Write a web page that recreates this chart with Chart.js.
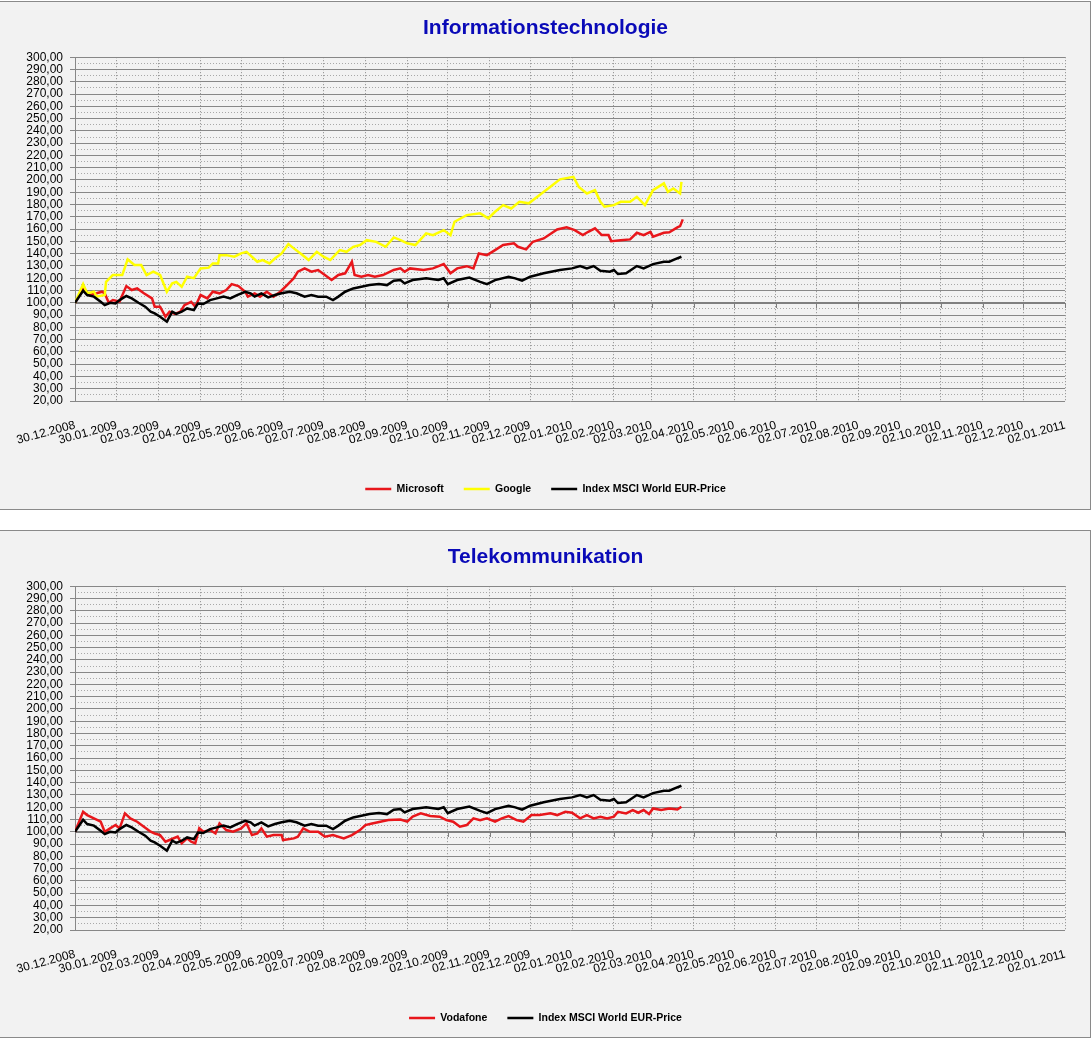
<!DOCTYPE html>
<html>
<head>
<meta charset="utf-8">
<script src="https://cdn.jsdelivr.net/npm/chart.js@4.4.0/dist/chart.umd.min.js"></script>
<style>
  html, body { margin: 0; padding: 0; background: #ffffff; }
  body { position: relative; width: 1091px; height: 1039px; overflow: hidden; }
  .panel { position: absolute; left: -1px; width: 1092px; box-sizing: border-box;
           background: #f2f2f2; border: 1px solid #8a8a8a; }
  canvas { position: absolute; left: 0; }
</style>
</head>
<body>
<div class="panel" style="top:1px;height:509px;"></div>
<div class="panel" style="top:530px;height:508px;"></div>
<canvas id="c1" width="1091" height="509" style="top:0px;"></canvas>
<canvas id="c2" width="1091" height="509" style="top:529px;"></canvas>
<script>
// ---- tick labels (x axis, dates) ----
const tickLabels = ["30.12.2008","30.01.2009","02.03.2009","02.04.2009","02.05.2009","02.06.2009","02.07.2009","02.08.2009","02.09.2009","02.10.2009","02.11.2009","02.12.2009","02.01.2010","02.02.2010","02.03.2010","02.04.2010","02.05.2010","02.06.2010","02.07.2010","02.08.2010","02.09.2010","02.10.2010","02.11.2010","02.12.2010","02.01.2011"];

// ---- series (x = days since 30.12.2008, y = indexed value, start = 100) ----
const msftDays = [0,6,11,16,20,22,25,28,33,38,42,46,51,57,59,63,67,70,74,78,81,86,89,93,98,102,107,112,116,121,126,128,133,137,142,147,152,157,162,165,170,175,180,185,190,195,200,205,207,212,217,222,228,236,241,244,248,258,265,273,278,283,290,295,299,305,311,317,325,328,334,339,347,357,364,370,376,380,385,390,395,397,404,411,416,421,426,428,436,440,446,448,450];
const msftValues = [100,111.7,106.3,107.7,109,107.7,100,102.2,101,113.6,110.4,111.7,107.7,103.6,96.8,96.8,88.6,92.7,91,92.7,98.1,100.8,96.8,106.3,103.6,109,107.7,110.4,115.2,113.6,109,105,107.7,105,109,105,109,114.4,120,125.3,128,125.3,126.7,122.6,118.5,122.6,124,133.4,122.6,121.2,122.6,121.2,122.6,126.7,128,125.3,128,126.7,128,131.5,124,128,129.8,128,140.2,138.8,142.9,147,148.4,145.6,143.5,149.7,152.4,159.7,161.4,159.2,155.1,157.8,160.6,155.1,155.1,150.2,151,151.6,157,155.1,157.8,153.8,157,157.4,161.4,162.4,167.9];

const googDays = [0,6,9,14,16,22,23,28,35,39,44,49,53,58,63,68,72,75,79,83,88,93,99,102,106,107,112,118,123,127,135,139,144,148,153,158,162,167,173,179,184,189,196,201,206,211,216,223,230,236,241,246,252,260,265,273,278,281,290,300,306,311,317,323,329,336,344,352,359,369,373,379,385,389,392,399,404,411,416,422,428,436,439,443,448,449];
const googValues = [100,115.2,107.7,109,105,106.3,117,122.6,122.6,135.3,130.7,130.7,122.6,125.3,122.6,109,115.8,117,113,121.2,120,128,128.6,132,132,138.8,138.8,137.5,140.2,141.5,133.4,134.8,132,136,140.2,147.8,144.3,140.2,134.8,141.5,137.5,134.8,142.9,141.5,145.6,147,151,149.6,145.6,153.2,151,148.4,147,156.5,155,159.2,155,166,171.4,172.8,168.7,174.1,179.5,176.8,182.2,181,187.7,194.4,200.5,202.6,194.4,189,191.7,182.2,178.2,179.5,182.2,182.2,186.3,179.5,191.7,197.2,190.3,193.1,189,198.5];

const idxDays = [0,6,9,14,19,22,26,30,33,38,42,47,52,56,59,63,68,72,75,79,83,88,91,95,100,105,110,115,120,126,130,133,138,143,148,153,159,164,170,175,180,186,191,195,200,206,212,218,225,231,236,241,244,250,260,269,273,276,283,292,300,305,311,321,326,331,337,347,359,368,374,379,384,389,396,399,402,408,416,421,428,436,440,444,449];
const idxValues = [100,109.8,106.3,105,100.8,98.1,100,99.4,102.2,105.5,103.6,100,96.8,92.7,91.3,88.6,84.6,92.7,91,92.7,95.4,94,99.4,99,102.2,103.6,105,103.6,106.3,109,107.7,105,107.7,104.4,106.3,107.7,109,107.7,105,106.3,105,105,102.2,105,109,111.7,113,114.4,115.2,114.4,117.9,118.5,115.8,118.5,119.9,118.5,119.9,115.2,118.5,120.6,117,115.2,118.5,121.2,119.9,118,121.2,124,126.7,128,129.9,128,129.9,126,125.3,126.7,123.4,124,129.9,128,131.5,133.4,133.4,135.3,137.5];

const vodDays = [0,6,9,14,19,22,26,30,33,37,41,46,51,56,59,63,67,70,76,79,83,86,89,92,95,100,104,107,112,117,123,127,131,135,138,142,147,153,154,162,165,169,174,180,185,191,199,205,211,215,220,226,232,241,246,250,256,263,270,275,280,285,290,295,300,305,311,316,321,327,332,338,344,352,357,363,368,374,379,384,389,394,399,402,408,413,417,421,425,428,434,440,446,449];
const vodValues = [100,116.3,113.6,110.9,108.2,100,102.8,105.5,102.8,115,110.9,108.2,104.1,100,98.6,97.3,91.9,93.3,96,90.6,94.6,91.9,90.6,102.8,100,101.4,98.6,106.8,101.4,100,102.8,106.8,97.3,98.6,102.8,96,97.3,97.3,93.3,94.6,96,102.8,100,100,96,97.3,94.6,97.3,101.4,105.5,106.8,108.2,109.5,110,108.2,112.3,115,112.8,112.3,109.5,108.2,104.1,105.5,110.9,109.5,110.9,108.2,110.9,112.8,109.5,108.2,113.6,113.6,115,113.6,116.3,115.5,110.9,113.6,110.9,112.3,110.9,112.3,116.3,115,117.7,115.5,117.7,114.4,119,117.7,119,118.2,120.4];

const yMin = 20, yMax = 300, yStep = 10, yMinorStep = 5, baseValue = 100;

// ---- helpers ----
function dayOf(label) {
  const [d, m, y] = label.split('.').map(Number);
  return Math.round((Date.UTC(y, m - 1, d) - Date.UTC(2008, 11, 30)) / 86400000);
}
const tickDays = tickLabels.map(dayOf);
const labelByDay = {};
tickDays.forEach((d, i) => { labelByDay[d] = tickLabels[i]; });
function pts(days, vals) { return days.map((d, i) => ({ x: d, y: vals[i] })); }
function fmt(v) { return v.toFixed(2).replace('.', ','); }

const GRID = '#878787';
const FONT = 'Liberation Sans, Arial, sans-serif';

const axisAtBase = {
  id: 'axisAtBase',
  beforeDatasetsDraw(chart) {
    const { ctx, scales: { x, y } } = chart;
    const py = Math.round(y.getPixelForValue(baseValue));
    ctx.save();
    ctx.strokeStyle = '#7f7f7f';
    ctx.lineWidth = 2;
    ctx.beginPath();
    ctx.moveTo(x.left, py);
    ctx.lineTo(x.right, py);
    ctx.stroke();
    ctx.lineWidth = 1;
    ctx.beginPath();
    x.ticks.forEach(t => {
      const px = Math.round(x.getPixelForValue(t.value)) + 0.5;
      ctx.moveTo(px, py);
      ctx.lineTo(px, py + 5);
    });
    ctx.stroke();
    ctx.restore();
  }
};

function makeChart(id, title, series) {
  const datasets = series.map((s, i) => ({
    label: s.label,
    data: pts(s.days, s.values),
    borderColor: s.color,
    backgroundColor: s.color,
    borderWidth: 2.5,
    pointRadius: 0,
    pointHoverRadius: 0,
    tension: 0,
    order: series.length - i
  }));
  return new Chart(document.getElementById(id), {
    type: 'line',
    data: { datasets },
    plugins: [axisAtBase],
    options: {
      responsive: false,
      animation: false,
      layout: { padding: { left: 0, right: 0, top: 0, bottom: 4.75 } },
      plugins: {
        title: {
          display: true, text: title, color: '#0a0ab8',
          font: { family: FONT, size: 21, weight: 'bold' },
          padding: { top: 16, bottom: 16 }
        },
        legend: {
          position: 'bottom',
          labels: {
            usePointStyle: true, pointStyle: 'line', pointStyleWidth: 26,
            color: '#000', padding: 20,
            font: { family: FONT, size: 10.5, weight: 'bold' },
            sort: (a, b) => a.datasetIndex - b.datasetIndex
          }
        },
        tooltip: { enabled: false }
      },
      scales: {
        x: {
          type: 'linear',
          min: tickDays[0], max: tickDays[tickDays.length - 1],
          afterBuildTicks: (s) => { s.ticks = tickDays.map(v => ({ value: v })); },
          afterFit: (s) => { s.height = 62.75; },
          grid: { color: GRID, lineWidth: 1, drawTicks: false },
          border: { display: false, dash: [1, 2] },
          ticks: {
            autoSkip: false, maxRotation: 15, minRotation: 15, padding: 17,
            color: '#000', font: { family: FONT, size: 12 },
            callback: (v) => labelByDay[v] || ''
          }
        },
        y: {
          position: 'left',
          min: yMin, max: yMax,
          afterFit: (s) => { s.width = 75; },
          grid: { color: GRID, lineWidth: 1, tickLength: 5, tickColor: GRID },
          border: { display: true, color: GRID, width: 1 },
          ticks: {
            stepSize: yStep, autoSkip: false, padding: 7,
            color: '#000', font: { family: FONT, size: 12 },
            callback: (v) => fmt(v)
          }
        },
        yMinor: {
          position: 'left',
          min: yMin, max: yMax,
          afterFit: (s) => { s.width = 0; },
          grid: {
            drawTicks: false, lineWidth: 1,
            color: (c) => (c.tick && c.tick.value % yStep !== 0) ? '#a8a8a8' : 'rgba(0,0,0,0)'
          },
          border: { display: false, dash: [1, 2] },
          ticks: { stepSize: yMinorStep, display: false }
        },
        rightGap: {
          position: 'right',
          min: yMin, max: yMax,
          afterFit: (s) => { s.width = 26; },
          grid: { display: false, drawOnChartArea: false, drawTicks: false },
          border: { display: false },
          ticks: { display: false }
        }
      }
    }
  });
}

makeChart('c1', 'Informationstechnologie', [
  { label: 'Microsoft', days: msftDays, values: msftValues, color: '#e8161b' },
  { label: 'Google', days: googDays, values: googValues, color: '#ffff00' },
  { label: 'Index MSCI World EUR-Price', days: idxDays, values: idxValues, color: '#000000' }
]);
makeChart('c2', 'Telekommunikation', [
  { label: 'Vodafone', days: vodDays, values: vodValues, color: '#e8161b' },
  { label: 'Index MSCI World EUR-Price', days: idxDays, values: idxValues, color: '#000000' }
]);
</script>
</body>
</html>
